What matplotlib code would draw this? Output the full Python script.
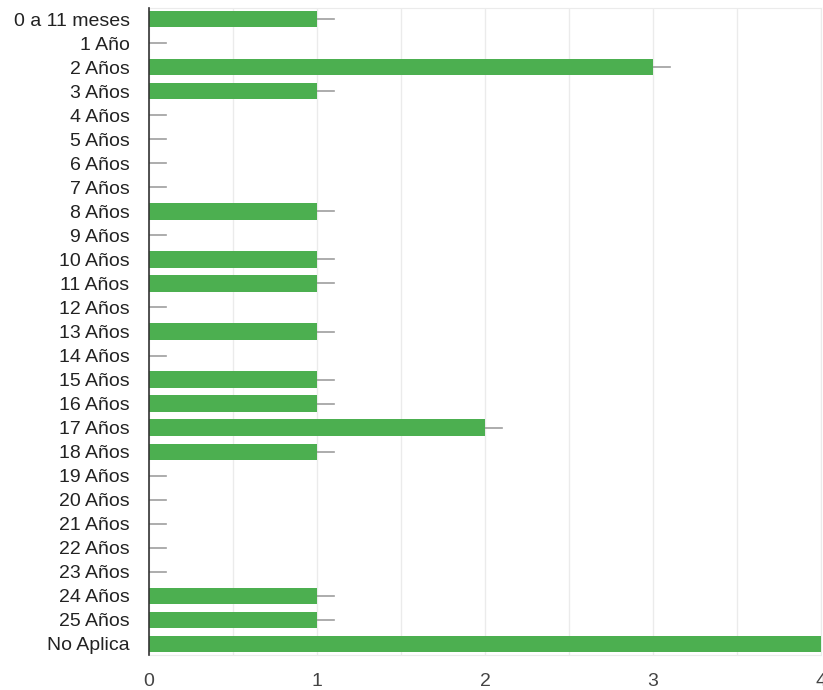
import numpy as np
import matplotlib.pyplot as plt

plt.rcParams['font.family'] = ['Liberation Sans', 'DejaVu Sans']

categorias = ['0 a 11 meses', '1 Año'] + ['%d Años' % i for i in range(2, 26)] + ['No Aplica']
valores = [1, 0, 3, 1, 0, 0, 0, 0, 1, 0, 1, 1, 0, 1, 0, 1, 1, 2, 1, 0, 0, 0, 0, 0, 1, 1, 4]

y = np.arange(len(categorias))

fig = plt.figure(figsize=(8.23, 6.9), dpi=100)
ax = fig.add_axes([0.181, 0.0507, 0.8165, 0.9377])

ax.barh(y, valores, height=0.68, color='#4caf50', zorder=3)
# small connector line past the end of each bar
for yi, v in zip(y, valores):
    ax.plot([v, v + 0.1], [yi, yi], color='#9e9e9e', lw=1.2, zorder=2, clip_on=True)

ax.set_xlim(0, 4)
ax.set_ylim(len(categorias) - 0.54, -0.46)
ax.set_yticks(y)
ax.set_yticklabels(categorias, fontsize=14, color='#222222')
ax.set_xticks([0, 1, 2, 3, 4])
ax.set_xticklabels(['0', '1', '2', '3', '4'], fontsize=14, color='#444444')
ax.set_xticks(np.arange(0.5, 4, 1), minor=True)
ax.grid(axis='x', which='both', color='#ebebeb', lw=1, zorder=0)
ax.tick_params(axis='both', which='both', length=0)
ax.tick_params(axis='y', pad=14)
ax.tick_params(axis='x', pad=13)

for s in ['top', 'bottom', 'right']:
    ax.spines[s].set_color('#ebebeb')
ax.spines['left'].set_color('#333333')
ax.spines['left'].set_linewidth(1.2)
ax.spines['left'].set_zorder(4)

fig.savefig('out.png', dpi=100)
